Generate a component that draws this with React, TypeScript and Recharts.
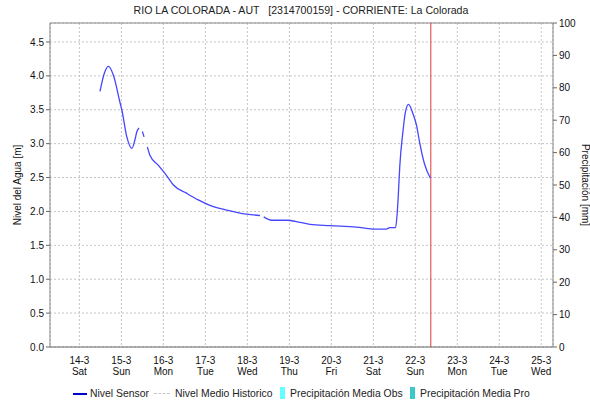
import { ComposedChart, Line, Bar, XAxis, YAxis, CartesianGrid, ReferenceLine } from "recharts";

// x = days since 14-3 00:00
const dayTicks = [0, 1, 2, 3, 4, 5, 6, 7, 8, 9, 10, 11];
const dateLabels = ["14-3", "15-3", "16-3", "17-3", "18-3", "19-3", "20-3", "21-3", "22-3", "23-3", "24-3", "25-3"];
const weekdayLabels = ["Sat", "Sun", "Mon", "Tue", "Wed", "Thu", "Fri", "Sat", "Sun", "Mon", "Tue", "Wed"];

const sensorDays = [
  0.49, 0.6, 0.69, 0.81, 0.97, 1.01, 1.13, 1.25, 1.32, 1.37, 1.42, 1.46,
  1.5, 1.54, 1.58,
  1.62, 1.68, 1.88, 2.0, 2.12, 2.24, 2.55, 2.83, 3.11, 3.51, 3.98, 4.3, 4.35,
  4.39, 4.58, 4.93, 5.25, 5.49, 5.96, 6.6, 6.99, 7.31, 7.39, 7.53, 7.57,
  7.59, 7.63, 7.71, 7.76, 7.84, 7.94, 8.03, 8.1, 8.22, 8.36,
];
const sensorLevels: (number | null)[] = [
  3.77, 4.05, 4.14, 4.01, 3.6, 3.5, 3.1, 2.93, 3.05, 3.18, 3.23, null,
  3.18, 3.1, null,
  2.95, 2.83, 2.68, 2.59, 2.49, 2.39, 2.27, 2.17, 2.09, 2.02, 1.96, 1.94, null,
  1.92, 1.87, 1.87, 1.84, 1.81, 1.79, 1.77, 1.74, 1.74, 1.76, 1.76, 1.98,
  2.17, 2.66, 3.2, 3.45, 3.58, 3.45, 3.27, 3.03, 2.7, 2.49,
];
// no rainfall recorded in the window
const precipObs = sensorDays.map(() => 0);

const leftTicks = [0, 0.5, 1, 1.5, 2, 2.5, 3, 3.5, 4, 4.5];
const rightTicks = [0, 10, 20, 30, 40, 50, 60, 70, 80, 90, 100];
const nowDay = 8.37;

const data = sensorDays.map((d, i) => ({ d, nivel: sensorLevels[i], precip: precipObs[i] }));

const FONT = "'Liberation Sans', Arial, sans-serif";

const DayTick = ({ x, y, payload }: any) => {
  const i = dayTicks.indexOf(payload.value);
  return (
    <text x={x} y={y} textAnchor="middle" fill="#111" fontSize={10} fontFamily={FONT}>
      <tspan x={x} dy={9}>{dateLabels[i]}</tspan>
      <tspan x={x} dy={11}>{weekdayLabels[i]}</tspan>
    </text>
  );
};

const legendText = { position: "absolute" as const, top: 387, fontSize: 10.4, color: "#222", whiteSpace: "nowrap" as const, lineHeight: "13px" };

export default function App() {
  return (
    <div style={{ position: "absolute", left: 0, top: 0, width: 590, height: 402, background: "#fff", fontFamily: FONT }}>
      <div style={{ position: "absolute", top: 4, left: 0, width: 602, textAlign: "center", fontSize: 10.6, color: "#222", whiteSpace: "pre" }}>
        {"RIO LA COLORADA - AUT   [2314700159] - CORRIENTE: La Colorada"}
      </div>
      <ComposedChart width={590} height={402} data={data} margin={{ top: 23, right: 0, bottom: 25, left: 0 }}>
        <CartesianGrid stroke="#c4c4c4" strokeDasharray="2 2" yAxisId="left" />
        <XAxis
          dataKey="d" type="number" domain={[-0.7, 11.28]} ticks={dayTicks}
          tick={<DayTick />} tickLine={false} axisLine={{ stroke: "#666" }} height={30} interval={0}
          allowDataOverflow
        />
        <YAxis
          yAxisId="left" domain={[0, 4.78]} ticks={leftTicks} width={50} allowDataOverflow
          tick={{ fill: "#111", fontSize: 10, fontFamily: FONT }} tickSize={4} tickLine={{ stroke: "#666" }}
          axisLine={{ stroke: "#888" }} tickFormatter={(v) => v.toFixed(1)}
          label={{ value: "Nivel del Agua [m]", angle: -90, position: "insideLeft", offset: 17, style: { fill: "#111", fontSize: 10, fontFamily: FONT, textAnchor: "middle" } }}
        />
        <YAxis
          yAxisId="right" orientation="right" domain={[0, 100]} ticks={rightTicks} width={37}
          tick={{ fill: "#111", fontSize: 10, fontFamily: FONT }} tickSize={4} tickLine={{ stroke: "#666" }}
          axisLine={{ stroke: "#888" }} allowDataOverflow
          label={{ value: "Precipitación [mm]", angle: 90, position: "insideRight", offset: 4, style: { fill: "#111", fontSize: 10, fontFamily: FONT, textAnchor: "middle" } }}
        />
        <ReferenceLine yAxisId="left" y={4.78} stroke="#888" />
        <ReferenceLine yAxisId="left" x={nowDay} stroke="#e03a3a" strokeWidth={1} />
        <Bar yAxisId="right" dataKey="precip" fill="#66ffff" barSize={4} isAnimationActive={false} />
        <Line
          yAxisId="left" type="monotone" dataKey="nivel" stroke="#4646ff" strokeWidth={1.3}
          dot={false} connectNulls={false} isAnimationActive={false}
        />
      </ComposedChart>
      <span style={{ position: "absolute", top: 393, left: 73, width: 14, height: 1.5, background: "#0000cc" }} />
      <span style={{ ...legendText, left: 90 }}>Nivel Sensor</span>
      <span style={{ position: "absolute", top: 393, left: 154, width: 16, borderTop: "1.5px dashed #c8c8c8" }} />
      <span style={{ ...legendText, left: 175 }}>Nivel Medio Historico</span>
      <span style={{ position: "absolute", top: 387, left: 280, width: 5, height: 12, background: "#66ffff" }} />
      <span style={{ ...legendText, left: 290 }}>Precipitación Media Obs</span>
      <span style={{ position: "absolute", top: 387, left: 410, width: 5, height: 12, background: "#3cc8c8" }} />
      <span style={{ ...legendText, left: 420 }}>Precipitación Media Pro</span>
    </div>
  );
}
